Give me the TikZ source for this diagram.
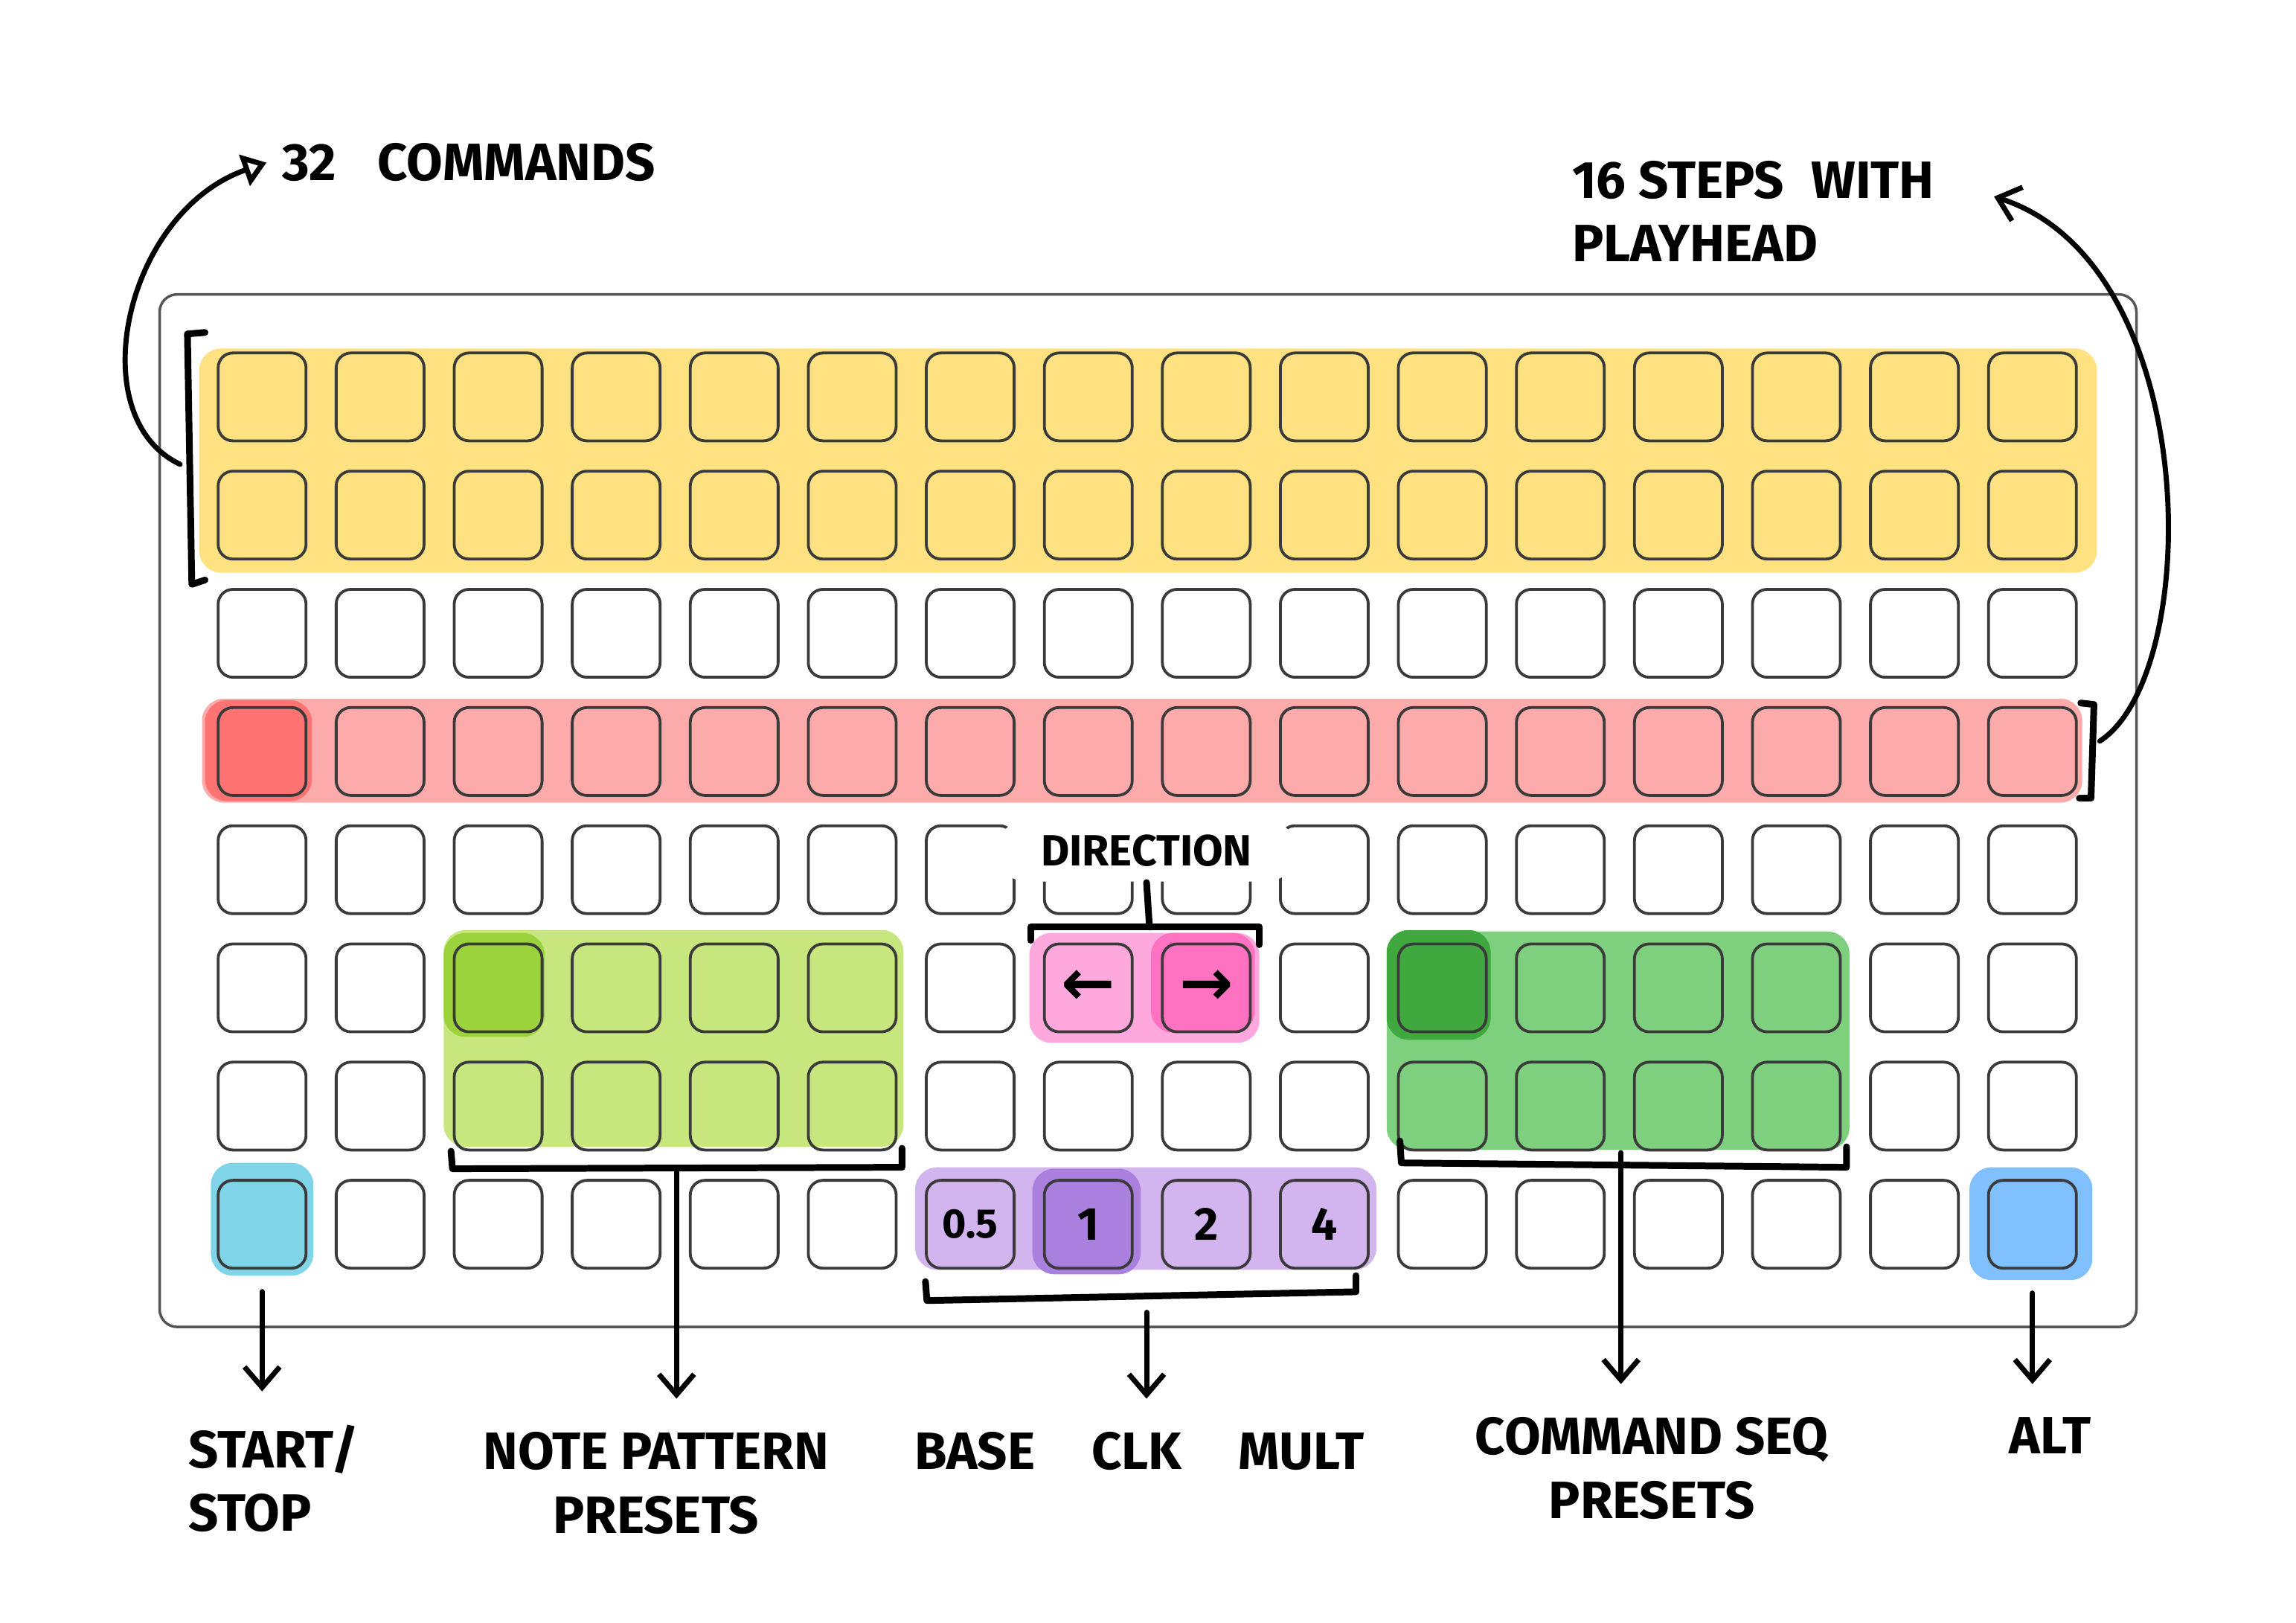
\documentclass[tikz,border=0pt]{standalone}
\usepackage{fontspec}
\setmainfont{Fira Sans}
\newfontfamily\symfont{DejaVu Sans}
\usetikzlibrary{arrows.meta,calc,positioning}
\definecolor{padline}{RGB}{58,58,58}
\definecolor{frameline}{RGB}{85,85,85}
\definecolor{cmdyellow}{RGB}{254,225,128}
\definecolor{steppink}{RGB}{252,170,170}
\definecolor{steprec}{RGB}{255,115,115}
\definecolor{notegreen}{RGB}{200,230,126}
\definecolor{notesel}{RGB}{155,211,60}
\definecolor{dirpink}{RGB}{254,168,221}
\definecolor{dirsel}{RGB}{255,114,194}
\definecolor{seqgreen}{RGB}{126,208,126}
\definecolor{seqsel}{RGB}{63,168,63}
\definecolor{clkpurple}{RGB}{210,180,238}
\definecolor{clksel}{RGB}{170,128,223}
\definecolor{startcyan}{RGB}{128,212,232}
\definecolor{altblue}{RGB}{128,192,255}

\begin{document}
\begin{tikzpicture}[x=1cm, y=-1cm,
    pad/.style={draw=padline, line width=0.55pt, rounded corners=1mm, minimum size=6mm, inner sep=0pt},
    padtxt/.style={inner sep=0pt, font=\bfseries\fontsize{9}{10}\selectfont},
    blob/.style={rounded corners=1.5mm},
    hand/.style={font=\bfseries\fontsize{10.2}{12.4}\selectfont, inner sep=1mm},
    bracket/.style={line width=1.3pt, line cap=round, line join=round},
    arr/.style={line width=1pt, line cap=round, -{Straight Barb[length=1.4mm, width=2.4mm]}}]
    \useasboundingbox (0,0) rectangle (15.68,11.08);
    \draw[frameline, line width=0.5pt, rounded corners=1.2mm] (1.09,2.01) rectangle (14.59,9.06);

    \fill[cmdyellow, blob] (1.36,2.38) rectangle (14.32,3.91);
    \fill[steppink, blob] (1.38,4.77) rectangle (14.22,5.48);
    \fill[steprec, blob] (1.40,4.78) rectangle (2.13,5.47);
    \fill[notegreen, blob] (3.03,6.35) rectangle (6.17,7.83);
    \fill[notesel, blob] (3.03,6.37) rectangle (3.72,7.08);
    \fill[dirpink, blob] (7.03,6.37) rectangle (8.60,7.12);
    \fill[dirsel, blob] (7.86,6.37) rectangle (8.57,7.05);
    \fill[seqgreen, blob] (9.47,6.36) rectangle (12.63,7.85);
    \fill[seqsel, blob] (9.47,6.35) rectangle (10.18,7.10);
    \fill[clkpurple, blob] (6.25,7.97) rectangle (9.40,8.67);
    \fill[clksel, blob] (7.05,7.98) rectangle (7.79,8.70);
    \fill[startcyan, blob] (1.44,7.94) rectangle (2.14,8.71);
    \fill[altblue, blob] (13.45,7.97) rectangle (14.29,8.74);

    \foreach \r in {1,...,8}
        \foreach \c in {1,...,16}
            \node[pad] (p-\r-\c) at ({1.79+0.806*(\c-1)}, {2.71+0.807*(\r-1)}) {};

    \node[padtxt, font=\symfont\bfseries\fontsize{12.5}{13}\selectfont] (left) at (p-6-8) {←};
    \node[padtxt, font=\symfont\bfseries\fontsize{12.5}{13}\selectfont] (right) at (p-6-9) {→};
    \node[padtxt, font=\bfseries\fontsize{8}{9}\selectfont] (half) at (p-8-7) {0.5};
    \node[padtxt] (one) at (p-8-8) {1};
    \node[padtxt] (two) at (p-8-9) {2};
    \node[padtxt] (four) at (p-8-10) {4};

    \node[hand, anchor=west] (cmds) at (1.82,1.11) {32\hspace{2mm} COMMANDS};
    \node[hand, anchor=north west, align=left] (steps) at (10.63,0.99) {16 STEPS\hspace{1mm} WITH\\PLAYHEAD};
    \node[hand, font=\bfseries\fontsize{8.5}{10}\selectfont, fill=white, rounded corners=2mm, inner xsep=3mm, inner ysep=1mm] (dirlbl) at (7.83,5.81) {DIRECTION};
    \node[hand, anchor=north west, align=left] (startlbl) at (1.18,9.62) {START/\\STOP};
    \node[hand, anchor=north, align=center] (notelbl) at (4.48,9.67) {NOTE PATTERN\\PRESETS};
    \node[hand, anchor=north] (baselbl) at (7.78,9.67) {BASE\hspace{3mm} CLK\hspace{3mm} MULT};
    \node[hand, anchor=north, align=center] (cmdlbl) at (11.28,9.57) {COMMAND SEQ\\PRESETS};
    \node[hand, anchor=north] (altlbl) at (14.00,9.57) {ALT};

    \draw[bracket] (1.40,2.27) -- (1.28,2.28) -- (1.31,3.99) -- (1.40,3.96);
    \draw[bracket] (14.21,4.80) -- (14.30,4.81) -- (14.28,5.45) -- (14.20,5.45);
    \draw[bracket] (3.08,7.86) -- (3.09,7.98) -- (6.16,7.97) -- (6.16,7.84);
    \draw[bracket] (6.32,8.75) -- (6.33,8.88) -- (9.26,8.82) -- (9.26,8.71);
    \draw[bracket] (9.56,7.79) -- (9.57,7.94) -- (12.61,7.97) -- (12.61,7.83);
    \draw[bracket] (7.04,6.42) -- (7.04,6.33) -- (8.60,6.33) -- (8.60,6.45);
    \coordinate (lb) at (1.23,3.17);
    \coordinate (rb) at (14.34,5.06);
    \coordinate (db) at (7.85,6.33);
    \coordinate (nb) at (4.62,7.98);
    \coordinate (bb) at (7.83,8.96);
    \coordinate (cb) at (11.07,7.87);
    \draw[bracket] (dirlbl.south) -- (db);

    \draw[line width=1pt, line cap=round, -{Triangle[open, length=1.6mm, width=2.2mm]}] (lb) .. controls (0.55,2.85) and (0.85,1.45) .. (cmds.west);
    \draw[arr] (rb) .. controls (15.05,4.60) and (15.05,1.80) .. ([xshift=3mm, yshift=1mm]steps.east);
    \draw[arr, shorten <=1.5mm, shorten >=1.2mm] (p-8-1.south) -- (p-8-1.south |- startlbl.north);
    \draw[arr, shorten >=1.2mm] (nb) -- (nb |- notelbl.north);
    \draw[arr, shorten >=1.2mm] (bb) -- (bb |- baselbl.north);
    \draw[arr, shorten >=1.2mm] (cb) -- (cb |- cmdlbl.north);
    \draw[arr, shorten <=1.6mm, shorten >=1.2mm] (p-8-16.south) -- (p-8-16.south |- altlbl.north);
\end{tikzpicture}
\end{document}
